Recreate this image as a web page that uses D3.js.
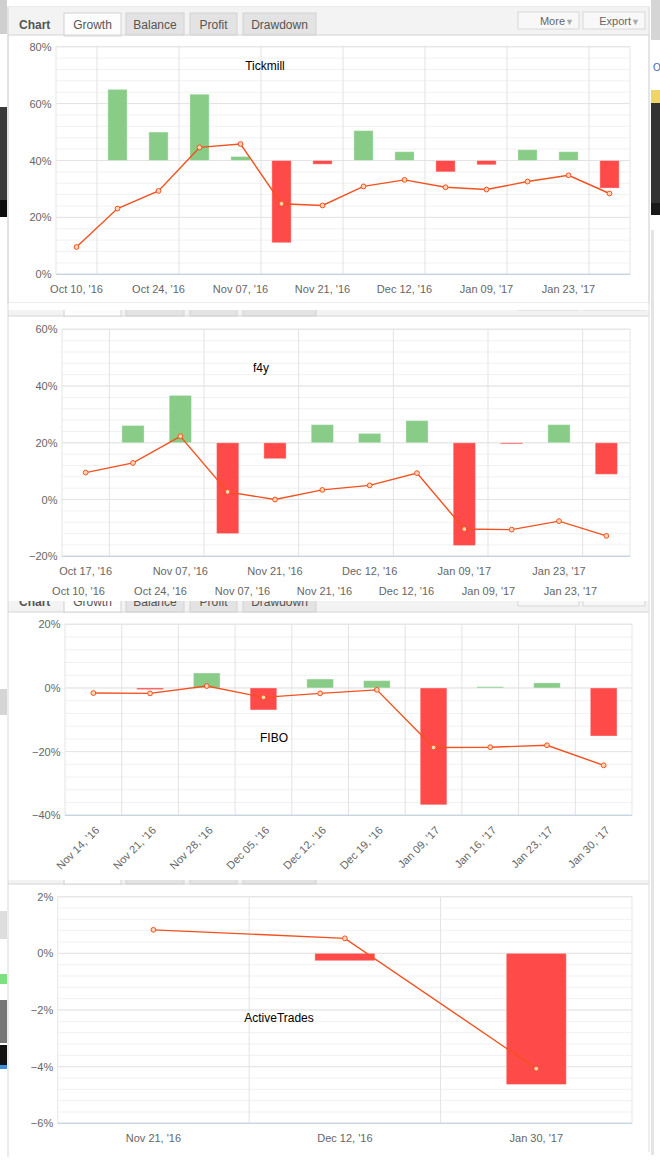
<!DOCTYPE html>
<html>
<head>
<meta charset="utf-8">
<script src="https://cdn.jsdelivr.net/npm/d3@7"></script>
<style>
  body { margin: 0; background: #fff; }
  svg { display: block; font-family: "Liberation Sans", Arial, sans-serif; }
</style>
</head>
<body>
<div id="chart"></div>
<script>
// ---- data ----
const tabNames = ["Growth", "Balance", "Profit", "Drawdown"];

const tickmillDates = ["Oct 10, '16", "Oct 17, '16", "Oct 24, '16", "Oct 31, '16", "Nov 07, '16", "Nov 14, '16", "Nov 21, '16",
  "Nov 28, '16", "Dec 12, '16", "Dec 19, '16", "Jan 09, '17", "Jan 16, '17", "Jan 23, '17", "Jan 30, '17"];
const tickmillWeekly = [null, 65, 50, 63.3, 41.4, 11.1, 38.7, 50.5, 43.1, 36.0, 38.5, 43.8, 43.1, 30.3];
const tickmillGrowth = [9.6, 23.1, 29.3, 44.6, 45.8, 24.8, 24.2, 30.9, 33.2, 30.6, 29.8, 32.6, 34.8, 28.4];

const f4yDates = ["Oct 17, '16", "Oct 31, '16", "Nov 07, '16", "Nov 14, '16", "Nov 21, '16", "Nov 28, '16", "Dec 12, '16",
  "Dec 19, '16", "Jan 09, '17", "Jan 16, '17", "Jan 23, '17", "Jan 30, '17"];
const f4yWeekly = [null, 26.1, 36.7, -12.0, 14.4, 26.4, 23.3, 27.8, -16.2, 19.6, 26.4, 8.9];
const f4yGrowth = [9.5, 12.9, 22.3, 2.7, 0, 3.4, 5.0, 9.3, -10.4, -10.6, -7.6, -12.8];

const fiboDates = ["Nov 14, '16", "Nov 21, '16", "Nov 28, '16", "Dec 05, '16", "Dec 12, '16", "Dec 19, '16",
  "Jan 09, '17", "Jan 16, '17", "Jan 23, '17", "Jan 30, '17"];
const fiboWeekly = [null, -0.5, 4.7, -6.9, 2.8, 2.3, -36.7, 0.4, 1.6, -15.1];
const fiboGrowth = [-1.6, -1.7, 0.6, -2.95, -1.7, -0.6, -18.7, -18.6, -18.0, -24.3];

const activeDates = ["Nov 21, '16", "Dec 12, '16", "Jan 30, '17"];
const activeWeekly = [null, -0.26, -4.63];
const activeGrowth = [0.83, 0.53, -4.07];

const green = "#88cc88", red = "#ff4a4a", lineColor = "#f4511e";

const svg = d3.select("#chart").append("svg").attr("width", 660).attr("height", 1161);
svg.append("rect").attr("width", 660).attr("height", 1161).attr("fill", "#fff");

// bits of the surrounding page showing at the edges
const edge = [
  [0, 0, 7, 34, "#cfcfcf"], [0, 107, 7, 93, "#3a3a3a"], [0, 200, 7, 17, "#0b0b0b"],
  [0, 689, 7, 26, "#d5d5d5"], [0, 911, 7, 28, "#dedede"], [0, 974, 7, 10, "#7ee07e"],
  [0, 1000, 7, 43, "#777"], [0, 1045, 7, 20, "#111"], [0, 1065, 7, 4, "#3b8de0"],
  [651, 0, 9, 40, "#d5d5d5"], [651, 90, 9, 13, "#f0d468"], [651, 103, 9, 100, "#333"],
  [651, 203, 9, 12, "#1a1a1a"], [651, 230, 3, 925, "#e4e4e4"]
];
svg.selectAll(".edge").data(edge).join("rect")
  .attr("x", d => d[0]).attr("y", d => d[1]).attr("width", d => d[2]).attr("height", d => d[3])
  .attr("fill", d => d[4]);
svg.append("text").attr("x", 653).attr("y", 71).attr("font-size", 10).attr("fill", "#4466aa").text("O");

let clipId = 0;
function drawTabs(bottom, clipTop, withText) {
  const g = svg.append("g");
  if (clipTop != null) {
    const id = "clip" + (clipId++);
    svg.append("clipPath").attr("id", id).append("rect")
      .attr("x", 8).attr("y", clipTop).attr("width", 641).attr("height", bottom - clipTop + 1);
    g.attr("clip-path", `url(#${id})`);
  }
  g.append("rect").attr("x", 8).attr("y", bottom - 28).attr("width", 641).attr("height", 28).attr("fill", "#f3f3f3");
  if (withText) {
    g.append("text").attr("x", 19).attr("y", bottom - 6.5).attr("font-size", 12).attr("font-weight", "bold")
      .attr("fill", "#555").text("Chart");
  }
  const tabX = [64, 126, 190, 243], tabW = [57, 58, 47, 73];
  tabNames.forEach((t, i) => {
    g.append("rect").attr("x", tabX[i]).attr("y", bottom - 22).attr("width", tabW[i]).attr("height", i === 0 ? 23 : 22)
      .attr("fill", i === 0 ? "#fdfdfd" : "#e3e3e3").attr("stroke", "#d2d2d2");
    if (withText) {
      g.append("text").attr("x", tabX[i] + tabW[i] / 2).attr("y", bottom - 5.7).attr("text-anchor", "middle")
        .attr("font-size", 12).attr("fill", "#555").text(t);
    }
  });
  [["More", 518, 61], ["Export", 583, 62]].forEach(b => {
    g.append("rect").attr("x", b[1]).attr("y", bottom - 23).attr("width", b[2]).attr("height", 17)
      .attr("fill", "#f8f8f8").attr("stroke", "#d8d8d8");
    if (withText && clipTop == null) {
      g.append("text").attr("x", b[1] + b[2] - 14).attr("y", bottom - 10.5).attr("text-anchor", "end")
        .attr("font-size", 11).attr("fill", "#666").text(b[0]);
      g.append("text").attr("x", b[1] + b[2] - 5).attr("y", bottom - 10.5).attr("text-anchor", "end")
        .attr("font-size", 9).attr("fill", "#aaa").text("▼");
    }
  });
  g.append("line").attr("x1", 8).attr("x2", 649).attr("y1", bottom).attr("y2", bottom).attr("stroke", "#d4d4d4");
}

const fmt = d => (d < 0 ? "\u2212" : "") + Math.abs(d) + "%";

function drawPanel(p) {
  const g = svg.append("g");
  const x = d3.scaleBand().domain(p.dates).range([p.left, p.right]);
  const y = d3.scaleLinear().domain(p.domain).range([p.bottom, p.top]);
  const bw = Math.min(x.bandwidth() * 0.47, 60);
  const cx = d => x(d) + x.bandwidth() / 2;

  const minor = d3.range(p.domain[0], p.domain[1] + 1e-9, p.step / 5);
  g.selectAll(".minor").data(minor).join("line")
    .attr("x1", p.left).attr("x2", p.right).attr("y1", d => y(d)).attr("y2", d => y(d))
    .attr("stroke", "#f1f1f1");
  const ticks = d3.range(p.domain[0], p.domain[1] + 1e-9, p.step);
  g.selectAll(".major").data(ticks).join("line")
    .attr("x1", p.left).attr("x2", p.right).attr("y1", d => y(d)).attr("y2", d => y(d))
    .attr("stroke", "#e3e3e3");
  const bounds = p.dates.filter((d, i) => i > 0 && (p.labelEvery === 1 || i % 2 === 1));
  g.selectAll(".vgrid").data(bounds).join("line")
    .attr("x1", d => x(d)).attr("x2", d => x(d)).attr("y1", p.top).attr("y2", p.bottom)
    .attr("stroke", "#e3e3e3");
  g.append("rect").attr("x", p.left).attr("y", p.top).attr("width", p.right - p.left).attr("height", p.bottom - p.top)
    .attr("fill", "none").attr("stroke", "#e6e6e6");
  g.append("line").attr("x1", p.left).attr("x2", p.right).attr("y1", p.bottom).attr("y2", p.bottom)
    .attr("stroke", "#c0d0e0");

  const bars = p.dates.map((d, i) => ({ d, v: p.weekly[i] })).filter(b => b.v != null);
  g.selectAll(".bar").data(bars).join("rect")
    .attr("x", b => cx(b.d) - bw / 2).attr("width", bw)
    .attr("y", b => y(Math.max(b.v, p.base)))
    .attr("height", b => Math.max(1, Math.abs(y(b.v) - y(p.base))))
    .attr("fill", b => (b.v >= p.base ? green : red))
    .attr("stroke", "rgba(255,255,255,0.35)");

  const pts = p.dates.map((d, i) => ({ d, v: p.growth[i] }));
  g.append("path").datum(pts)
    .attr("d", d3.line().x(q => cx(q.d)).y(q => y(q.v)))
    .attr("fill", "none").attr("stroke", lineColor).attr("stroke-width", 1.4);
  g.selectAll(".pt").data(pts).join("circle")
    .attr("cx", q => cx(q.d)).attr("cy", q => y(q.v)).attr("r", 2.4)
    .attr("fill", "#fcd7b6").attr("stroke", lineColor).attr("stroke-width", 1);

  const ya = g.append("g").attr("transform", `translate(${p.left},0)`)
    .call(d3.axisLeft(y).tickValues(ticks).tickSize(0).tickPadding(4.5).tickFormat(fmt));
  ya.select(".domain").remove();
  ya.selectAll("text").attr("fill", "#666").attr("font-size", 11).attr("font-family", "Liberation Sans, Arial, sans-serif");

  const xa = g.append("g").attr("transform", `translate(0,${p.bottom})`)
    .call(d3.axisBottom(x).tickSize(0).tickPadding(11)
      .tickFormat((d, i) => (i % p.labelEvery === 0 ? d : "")));
  xa.select(".domain").remove();
  xa.selectAll("text").attr("fill", "#666").attr("font-size", 11).attr("font-family", "Liberation Sans, Arial, sans-serif");
  if (p.rotate) {
    xa.selectAll("text").attr("y", 0).attr("dy", "0.35em").attr("text-anchor", "end")
      .attr("transform", "translate(4,13) rotate(-45)");
  }

  g.append("text").attr("x", p.titleX).attr("y", p.titleY).attr("text-anchor", "middle")
    .attr("font-size", 12).attr("fill", "#000").text(p.title);
  return x;
}

// panel 1 : Tickmill
svg.append("rect").attr("x", 8).attr("y", 7).attr("width", 641).attr("height", 296)
  .attr("fill", "#fff").attr("stroke", "#d8d8d8");
drawTabs(35, null, true);
const x1 = drawPanel({ title: "Tickmill", titleX: 265, titleY: 70, dates: tickmillDates, weekly: tickmillWeekly,
  growth: tickmillGrowth, left: 56, right: 630, top: 46.7, bottom: 274.3, domain: [0, 80], step: 20, base: 40, labelEvery: 2 });

// panel 2 : f4y
svg.append("rect").attr("x", 8).attr("y", 303).attr("width", 641).attr("height", 282).attr("fill", "#fff");
drawTabs(316, 310, false);
drawPanel({ title: "f4y", titleX: 261, titleY: 372, dates: f4yDates, weekly: f4yWeekly,
  growth: f4yGrowth, left: 62, right: 630, top: 329.3, bottom: 556.3, domain: [-20, 60], step: 20, base: 20, labelEvery: 2 });

// panel 3 : FIBO (its tab bar is half hidden under the Tickmill axis strip)
drawTabs(612, 601, true);
svg.append("rect").attr("x", 8).attr("y", 613).attr("width", 641).attr("height", 267).attr("fill", "#fff");

// strip of the Tickmill x axis peeking between screenshots
svg.append("rect").attr("x", 8).attr("y", 583).attr("width", 641).attr("height", 18).attr("fill", "#fff");
const ghost = svg.append("g").attr("transform", "translate(2,576.5)")
  .call(d3.axisBottom(x1).tickSize(0).tickPadding(11).tickFormat((d, i) => (i % 2 === 0 ? d : "")));
ghost.select(".domain").remove();
ghost.selectAll("text").attr("fill", "#666").attr("font-size", 11).attr("font-family", "Liberation Sans, Arial, sans-serif");

drawPanel({ title: "FIBO", titleX: 274, titleY: 742, dates: fiboDates, weekly: fiboWeekly,
  growth: fiboGrowth, left: 65, right: 632, top: 624.3, bottom: 815.3, domain: [-40, 20], step: 20, base: 0,
  labelEvery: 1, rotate: true });

// panel 4 : ActiveTrades
drawTabs(884, 880, false);
svg.append("rect").attr("x", 8).attr("y", 885).attr("width", 641).attr("height", 267).attr("fill", "#fff");
drawPanel({ title: "ActiveTrades", titleX: 279, titleY: 1022, dates: activeDates, weekly: activeWeekly,
  growth: activeGrowth, left: 57.7, right: 632, top: 896.7, bottom: 1123.3, domain: [-6, 2], step: 2, base: 0, labelEvery: 1 });

// outer borders of the stacked screenshots
svg.append("line").attr("x1", 8).attr("x2", 8).attr("y1", 7).attr("y2", 1157).attr("stroke", "#d8d8d8");
svg.append("line").attr("x1", 649).attr("x2", 649).attr("y1", 7).attr("y2", 1152).attr("stroke", "#dedede");
</script>
</body>
</html>
